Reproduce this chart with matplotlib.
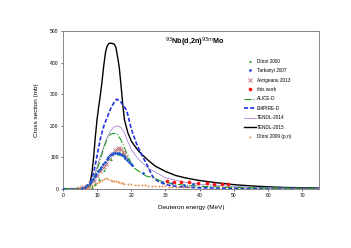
import matplotlib
matplotlib.use("Agg")
import matplotlib.pyplot as plt

plt.rcParams["font.family"] = ["Liberation Sans", "DejaVu Sans"]

# model curves
tendl15_x = [0, 6, 7, 7.5, 8, 8.5, 9, 9.5, 10, 10.5, 11, 11.5, 12, 12.5, 13, 13.5, 14, 14.5, 15, 15.5,
             16, 16.5, 17, 17.5, 18, 19, 20, 21, 22, 23, 25, 27, 30, 33, 36, 40, 45, 50, 55, 60, 65, 70, 75]
tendl15_y = [0, 0, 1, 5, 20, 50, 100, 165, 220, 262, 300, 345, 395, 435, 455, 462, 463, 462, 460, 450,
             420, 385, 330, 270, 220, 178, 152, 136, 122, 110, 90, 72, 55, 42, 34, 26, 19, 13, 9, 6, 4, 3, 2]

empire_x = [0, 6, 7, 8, 9, 10, 11, 12, 13, 14, 15, 15.8, 17, 18, 18.6, 19, 20, 21, 21.5, 22.5, 23.5,
            24.4, 25.3, 26.3, 27.5, 29.2, 31, 34, 40, 50, 75]
empire_y = [0, 0, 2, 15, 50, 105, 160, 200, 228, 255, 275, 285, 275, 260, 250, 235, 190, 160, 144, 120, 98,
            81, 60, 38, 26, 17, 11, 6, 3, 1.5, 0.5]

tendl14_x = [0, 7, 8, 9, 10, 11, 12, 13, 14, 15, 16, 17, 18, 19, 20, 22, 25, 30, 35, 40, 50, 60, 75]
tendl14_y = [0, 0, 10, 35, 70, 105, 135, 165, 185, 197, 200, 195, 178, 150, 125, 95, 65, 35, 22, 14, 7, 3, 1]

alice_x = [0, 7, 8, 9, 10, 11, 12, 13, 14, 15, 16, 17, 18, 19, 20, 21, 22, 24.4, 26.2, 29.2, 32, 35, 40, 50, 60, 75]
alice_y = [0, 0, 8, 30, 60, 95, 130, 160, 174, 176, 173, 155, 130, 105, 80, 65, 57, 40, 36, 22, 16, 12, 8, 4, 2, 1]

# experimental data
ditroi00_x = [8.5, 9.5, 10.5, 12, 14, 16, 17.5, 19]
ditroi00_y = [6, 15, 30, 60, 95, 110, 108, 95]

tarkanyi_x = [0, 5.5, 6.5, 7.2, 7.8, 8.3, 8.8, 9.3, 9.8, 10.3, 10.8, 11.3, 11.8, 12.3, 12.8, 13.3, 13.8,
              14.3, 14.8, 15.3, 15.8, 16.3, 16.8, 17.3, 17.8, 18.3, 18.8, 19.3, 19.8, 20.2, 23.3, 29.0,
              32, 35.5, 38]
tarkanyi_y = [0, 3, 6, 12, 18, 25, 32, 40, 48, 55, 62, 70, 78, 86, 93, 100, 106, 110, 113, 115, 115,
              114, 112, 108, 103, 97, 90, 85, 80, 76, 50, 20, 18, 12, 15]

avrig_x = [4.7, 6.0, 7.0, 8.0, 9.0, 10.0, 11.0, 12.0, 12.7, 13.5, 14.5, 15.2, 16.0, 16.5, 17.0, 17.5, 18.0, 18.6]
avrig_y = [2, 4, 10, 18, 25, 40, 55, 70, 79, 95, 112, 122, 125, 128, 125, 118, 112, 100]

work_x = [30.5, 32.5, 34.5, 37, 39.5, 42, 44.2, 46.4, 48.3]
work_y = [24, 22, 21, 20, 18, 17, 16, 15, 14]

ditroi09_x = [5.8, 6.5, 7.0, 7.5, 8.0, 8.5, 9.0, 9.5, 10.0, 10.5, 11.0, 11.5, 12.0, 12.7, 13.3, 14.0, 14.5,
              15.0, 15.5, 16.0, 16.5, 17.0, 17.5, 18.0, 19.0, 20.0, 21.0, 22.0, 23.0, 24.0, 25.0, 26.0,
              27.0, 28.0, 29.0, 30.0, 31.0, 32.0, 33.0, 34.0, 35.0, 36.0, 37.0]
ditroi09_y = [0, 1, 2, 4, 6, 9, 12, 15, 18, 21, 24, 27, 30, 33, 31, 28, 26, 24, 23, 21, 20, 18, 17, 16, 15,
              14, 13, 12, 12, 11, 10, 10, 9, 9, 8, 8, 7, 7, 6, 6, 5, 5, 5]

fig = plt.figure(figsize=(3.51, 2.48), dpi=100)
ax = fig.add_axes([0.179, 0.239, 0.731, 0.634])

ax.plot(ditroi09_x, ditroi09_y, "o", color="#e8914a", ms=1.4, mew=0, label="Ditroi 2009 (p,n)", zorder=3)
ax.plot(tendl15_x, tendl15_y, "-", color="black", lw=1.0, label="TENDL-2015", zorder=2)
ax.plot(empire_x, empire_y, "--", color="#2233dd", lw=1.2, dashes=(2.5, 1.2), label="EMPIRE-D", zorder=2)
ax.plot(tendl14_x, tendl14_y, "-", color="#a070d0", lw=0.5, label="TENDL-2014", zorder=2)
ax.plot(alice_x, alice_y, "-.", color="#229922", lw=0.8, label="ALICE-D", zorder=2)
ax.plot(avrig_x, avrig_y, "x", color="#c07878", ms=2.5, mew=0.7, label="Avrigeanu 2013", zorder=4)
ax.plot(ditroi00_x, ditroi00_y, "^", color="#22aa33", ms=2, mew=0, label="Ditroi 2000", zorder=4)
ax.plot(tarkanyi_x, tarkanyi_y, "D", color="#2255cc", ms=1.8, mew=0, label="Tarkanyi 2007", zorder=5)
ax.plot(work_x, work_y, "o", color="#ff1111", ms=2.6, mew=0, label="this work", zorder=6)

ax.set_xlim(0, 75)
ax.set_ylim(0, 500)
ax.set_xticks(range(0, 71, 10))
ax.set_yticks(range(0, 501, 100))
ax.tick_params(labelsize=3.6, length=1.5, width=0.4, pad=1.5)
for s in ax.spines.values():
    s.set_color("#888888")
    s.set_linewidth(0.7)

ax.set_xlabel("Deuteron energy (MeV)", fontsize=4.6, labelpad=5)
ax.set_ylabel("Cross section (mb)", fontsize=4.6, labelpad=8)
ax.text(0.40, 0.92, r"$^{93}$Nb(d,2n)$^{93m}$Mo", transform=ax.transAxes, fontsize=5.2, fontweight="bold")

order = ["Ditroi 2000", "Tarkanyi 2007", "Avrigeanu 2013", "this work", "ALICE-D",
         "EMPIRE-D", "TENDL-2014", "TENDL-2015", "Ditroi 2009 (p,n)"]
h, l = ax.get_legend_handles_labels()
hd = dict(zip(l, h))
ax.legend([hd[k] for k in order], order, loc="upper left", bbox_to_anchor=(0.70, 0.84),
          frameon=False, fontsize=3.4, handlelength=2.4, labelspacing=0.95, handletextpad=0.3,
          borderaxespad=0)

fig.savefig("out.png", dpi=100)
